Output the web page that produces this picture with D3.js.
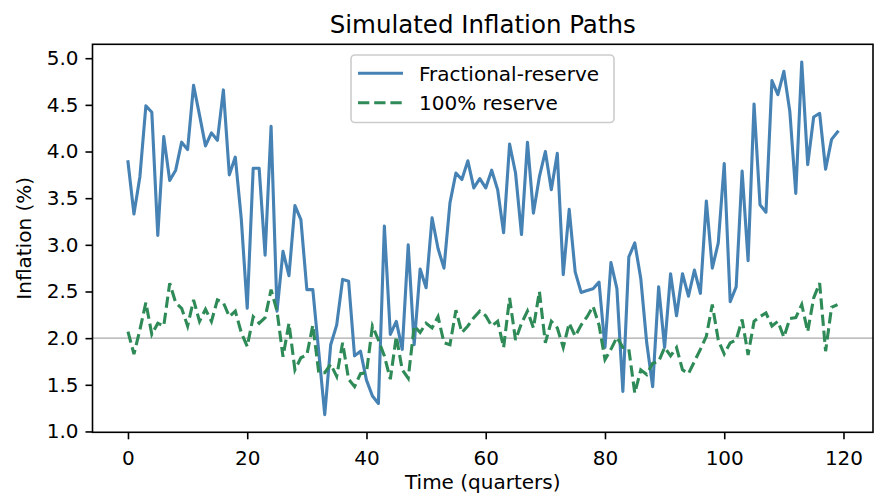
<!DOCTYPE html>
<html>
<head>
<meta charset="utf-8">
<script src="https://cdn.jsdelivr.net/npm/d3@7"></script>
<style>
	body { margin:0; background:#fff; }
	#chart-area { width:874px; height:495px; }
	text { font-family: "DejaVu Sans", sans-serif; fill:#000; }
</style>
</head>
<body>
<div id="chart-area"></div>
<script>

// quarters 0..119
var quarters = d3.range(0, 120);

// fractional-reserve inflation path (%)
var fractional = [
	3.89, 3.33, 3.73, 4.49, 4.42, 3.10, 4.16, 3.69, 3.80, 4.10,
	4.02, 4.71, 4.39, 4.06, 4.20, 4.12, 4.66, 3.75, 3.94, 3.28,
	2.32, 3.82, 3.82, 2.89, 4.27, 2.29, 2.93, 2.67, 3.42, 3.27,
	2.52, 2.52, 1.85, 1.18, 1.93, 2.14, 2.63, 2.61, 1.81, 1.86,
	1.55, 1.38, 1.30, 3.20, 2.04, 2.18, 1.88, 3.00, 1.93, 2.74,
	2.54, 3.29, 2.96, 2.75, 3.45, 3.77, 3.70, 3.90, 3.61, 3.71,
	3.61, 3.80, 3.59, 3.13, 4.08, 3.77, 3.11, 4.10, 3.34, 3.73,
	4.00, 3.59, 3.98, 2.68, 3.38, 2.71, 2.49, 2.51, 2.53, 2.60,
	1.90, 2.81, 2.53, 1.43, 2.87, 3.02, 2.64, 1.95, 1.48, 2.55,
	1.90, 2.69, 2.24, 2.69, 2.45, 2.73, 2.48, 3.47, 2.75, 3.02,
	3.87, 2.39, 2.55, 3.79, 2.83, 4.51, 3.43, 3.35, 4.76, 4.61,
	4.86, 4.43, 3.55, 4.96, 3.86, 4.37, 4.41, 3.81, 4.13, 4.21
];

// 100% reserve inflation path (%)
var fullReserve = [
	2.07, 1.83, 2.09, 2.38, 2.04, 2.16, 2.13, 2.59, 2.38, 2.32,
	2.13, 2.41, 2.18, 2.31, 2.18, 2.41, 2.38, 2.23, 2.29, 2.06,
	1.91, 2.23, 2.16, 2.22, 2.52, 2.29, 1.80, 2.16, 1.66, 1.79,
	1.82, 2.14, 1.63, 1.63, 1.72, 1.59, 1.95, 1.56, 1.48, 1.62,
	1.63, 2.13, 1.98, 1.81, 1.56, 2.02, 1.66, 1.57, 2.13, 2.06,
	2.16, 2.11, 2.23, 1.95, 1.93, 2.30, 2.06, 2.13, 2.22, 2.29,
	2.24, 2.13, 2.18, 1.90, 2.43, 1.98, 2.16, 2.29, 2.11, 2.50,
	1.95, 2.18, 2.11, 1.90, 2.16, 2.02, 2.14, 2.23, 2.34, 2.14,
	1.77, 1.88, 2.01, 1.90, 1.88, 1.41, 1.66, 1.61, 1.73, 1.75,
	1.90, 1.81, 1.90, 1.66, 1.62, 1.75, 1.88, 2.02, 2.36, 1.98,
	1.83, 1.95, 1.98, 2.20, 1.82, 2.18, 2.23, 2.27, 2.13, 2.18,
	2.01, 2.21, 2.22, 2.36, 2.07, 2.43, 2.59, 1.86, 2.33, 2.36
];

var xTicks = [0, 20, 40, 60, 80, 100, 120];
var yTicks = [1.0, 1.5, 2.0, 2.5, 3.0, 3.5, 4.0, 4.5, 5.0];
var targetRate = 2.0;

var seriesNames = ["Fractional-reserve", "100% reserve"];


draw_inflation_chart();


function draw_inflation_chart () {

	var svgwidth = 874,
		svgheight = 495;

	// axes box in page pixels
	var plot = {left: 92.5, right: 873, top: 44.3, bottom: 432.3};

	var svg = d3.select("#chart-area").append("svg")
		.attr("width", svgwidth)
		.attr("height", svgheight);

	// set the ranges (matplotlib style 5% margins)
	var x = d3.scaleLinear()
		.domain([-5.95, 124.95])
		.range([plot.left, plot.right]);
	var y = d3.scaleLinear()
		.domain([0.991, 5.149])
		.range([plot.bottom, plot.top]);

	// reference line at 2%
	svg.append("line")
		.attr("x1", plot.left).attr("x2", plot.right)
		.attr("y1", y(targetRate)).attr("y2", y(targetRate))
		.style("stroke", "#aaaaaa")
		.style("stroke-width", 1.3);

	var line = d3.line()
		.x(function(d, i) { return x(quarters[i]); })
		.y(function(d) { return y(d); });

	svg.append("path")
		.datum(fractional)
		.attr("d", line)
		.style("fill", "none")
		.style("stroke", "#4682b4")
		.style("stroke-width", 3.1)
		.style("stroke-linejoin", "round")
		.style("stroke-linecap", "square");

	svg.append("path")
		.datum(fullReserve)
		.attr("d", line)
		.style("fill", "none")
		.style("stroke", "#2e8b57")
		.style("stroke-width", 3.1)
		.style("stroke-dasharray", "11.3,4.9");

	//## axes
	var xAxis = svg.append("g")
		.attr("transform", "translate(0," + plot.bottom + ")")
		.call(d3.axisBottom(x).tickValues(xTicks).tickSize(7).tickPadding(7).tickFormat(d3.format("d")));

	var yAxis = svg.append("g")
		.attr("transform", "translate(" + plot.left + ",0)")
		.call(d3.axisLeft(y).tickValues(yTicks).tickSize(7).tickPadding(7).tickFormat(d3.format(".1f")));

	[xAxis, yAxis].forEach(function(a) {
		a.select(".domain").remove();
		a.selectAll(".tick line").style("stroke", "#000").style("stroke-width", 1.6);
		a.selectAll(".tick text").style("font-size", "20px").style("fill", "#000");
	});
	xAxis.selectAll(".tick text").attr("dy", "0.95em");

	// frame
	svg.append("rect")
		.attr("x", plot.left).attr("y", plot.top)
		.attr("width", plot.right - plot.left)
		.attr("height", plot.bottom - plot.top)
		.style("fill", "none")
		.style("stroke", "#000")
		.style("stroke-width", 1.6);

	//## labels
	svg.append("text")
		.attr("x", (plot.left + plot.right) / 2)
		.attr("y", 33)
		.attr("text-anchor", "middle")
		.style("font-size", "24.5px")
		.text("Simulated Inflation Paths");

	svg.append("text")
		.attr("x", (plot.left + plot.right) / 2)
		.attr("y", 489)
		.attr("text-anchor", "middle")
		.style("font-size", "20px")
		.text("Time (quarters)");

	svg.append("text")
		.attr("transform", "translate(31," + (plot.top + plot.bottom) / 2 + ") rotate(-90)")
		.attr("text-anchor", "middle")
		.style("font-size", "20px")
		.text("Inflation (%)");

	//## legend
	var legend = svg.append("g");

	legend.append("rect")
		.attr("x", 351).attr("y", 55)
		.attr("width", 263).attr("height", 67.5)
		.attr("rx", 4)
		.style("fill", "#fff")
		.style("fill-opacity", 0.8)
		.style("stroke", "#cccccc")
		.style("stroke-width", 1.6);

	var rows = [
		{name: seriesNames[0], color: "#4682b4", dash: null, cy: 73.3},
		{name: seriesNames[1], color: "#2e8b57", dash: "11.3,4.9", cy: 102.7}
	];

	rows.forEach(function(r) {
		legend.append("line")
			.attr("x1", 358).attr("x2", 403)
			.attr("y1", r.cy).attr("y2", r.cy)
			.style("stroke", r.color)
			.style("stroke-width", 3.1)
			.style("stroke-dasharray", r.dash);
		legend.append("text")
			.attr("x", 419)
			.attr("y", r.cy)
			.attr("dy", "0.36em")
			.style("font-size", "20px")
			.text(r.name);
	});
}

</script>
</body>
</html>
